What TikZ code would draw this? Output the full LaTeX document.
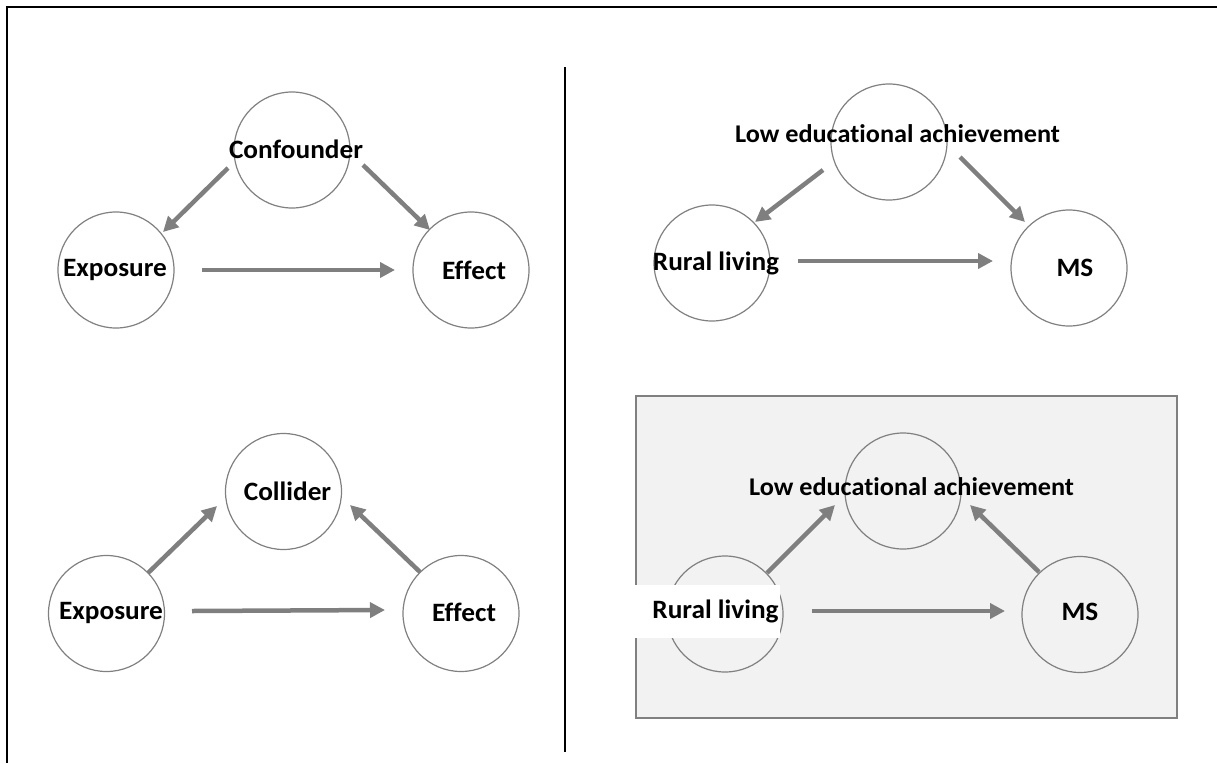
\documentclass[tikz,border=0pt]{standalone}
\usepackage{fontspec}
\setmainfont{Carlito}[Ligatures=NoCommon, FakeStretch=1.03]
\usetikzlibrary{arrows.meta}
\definecolor{arrgray}{HTML}{7F7F7F}
\definecolor{circgray}{HTML}{808080}
\definecolor{boxfill}{HTML}{F2F2F2}
\tikzset{
  circ/.style={circle, draw=circgray, line width=1.2pt, minimum size=116pt, inner sep=0pt},
  lbl/.style={font=\fontsize{26.5}{31}\selectfont\bfseries, inner sep=0pt, text=black},
  arr/.style={draw=arrgray, line width=4.5pt, -{Triangle[length=15pt,width=15pt]}},
}
\begin{document}
\begin{tikzpicture}[x=1pt,y=-1pt]
\useasboundingbox (0,0) rectangle (1217,763);
% frame
\draw[line width=2.5pt] (1217,7) -- (7,7) -- (7,763);
% divider
\draw[line width=2pt] (565,67) -- (565,752);
% shaded box
\draw[draw=circgray, fill=boxfill, line width=1.5pt] (636,396) rectangle (1177,718);

% ---------- top-left: confounder ----------
\node[circ] (c1) at (292,150) {};
\node[circ] (ex1) at (116,270) {};
\node[circ] (ef1) at (471,270) {};
\node[lbl] (t1) at (296,149) {Confounder};
\node[lbl] (t2) at (115,270) {Exposure};
\node[lbl] (t3) at (474,270) {Effect};
\draw[arr] ([shift={(-64,18)}]c1.center) -- ([shift={(47,-38)}]ex1.center);
\draw[arr] ([shift={(71,15)}]c1.center) -- ([shift={(-41,-40)}]ef1.center);
\draw[arr] ([shift={(86,0)}]ex1.center) -- ([shift={(-76,0)}]ef1.center);

% ---------- bottom-left: collider ----------
\node[circ] (col) at (283.5,491.5) {};
\node[circ] (ex2) at (106.5,613.5) {};
\node[circ] (ef2) at (461,613.5) {};
\node[lbl] (t4) at (287.5,491) {Collider};
\node[lbl] (t5) at (111,613) {Exposure};
\node[lbl] (t6) at (464,612) {Effect};
\draw[arr] ([shift={(41.5,-40.5)}]ex2.center) -- ([shift={(-66.5,14.5)}]col.center);
\draw[arr] ([shift={(-41,-41.5)}]ef2.center) -- ([shift={(66.5,13.5)}]col.center);
\draw[arr] ([shift={(85.5,-2.5)}]ex2.center) -- ([shift={(-76,-3.5)}]ef2.center);

% ---------- top-right ----------
\node[circ] (lea1) at (889,142) {};
\node[circ] (rur1) at (712,263) {};
\node[circ] (ms1) at (1069,268) {};
\node[lbl, font=\fontsize{25.5}{30}\selectfont\bfseries] (t7) at (897.5,134) {Low educational achievement};
\node[lbl] (t8) at (716,263) {Rural living};
\node[lbl] (t9) at (1075,268) {MS};
\draw[arr] ([shift={(-66,28)}]lea1.center) -- ([shift={(43,-41)}]rur1.center);
\draw[arr] ([shift={(71,15)}]lea1.center) -- ([shift={(-44,-46)}]ms1.center);
\draw[arr] ([shift={(86,-2)}]rur1.center) -- ([shift={(-76,-7)}]ms1.center);

% ---------- bottom-right (shaded) ----------
\node[circ] (lea2) at (903,491) {};
\node[circ] (rur2) at (725,614) {};
\node[circ] (ms2) at (1080,614.5) {};
\node[lbl, font=\fontsize{25.5}{30}\selectfont\bfseries] (t10) at (911.5,487) {Low educational achievement};
\node[lbl, fill=white, minimum width=148pt, minimum height=53pt] (t11) at (706,611.5) {\hspace*{19pt}Rural living};
\node[lbl] (t12) at (1080,612) {MS};
\draw[arr] ([shift={(42,-41)}]rur2.center) -- ([shift={(-68,14)}]lea2.center);
\draw[arr] ([shift={(-41,-42.5)}]ms2.center) -- ([shift={(67,14)}]lea2.center);
\draw[arr] ([shift={(87,-3)}]rur2.center) -- ([shift={(-75,-3.5)}]ms2.center);
\end{tikzpicture}
\end{document}
